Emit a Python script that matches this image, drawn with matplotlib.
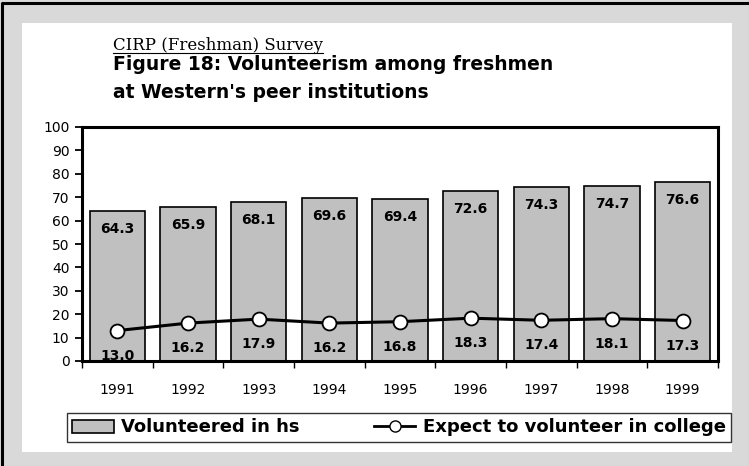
import matplotlib
matplotlib.use('Agg')
import matplotlib.pyplot as plt
import numpy as np
from matplotlib.patches import Rectangle, Patch
from matplotlib.lines import Line2D

# -[Dati]----------------------------------------------------------------------
years = ['1991', '1992', '1993', '1994', '1995', '1996', '1997', '1998', '1999']
hs_vol = [64.3, 65.9, 68.1, 69.6, 69.4, 72.6, 74.3, 74.7, 76.6]
college_exp = [13.0, 16.2, 17.9, 16.2, 16.8, 18.3, 17.4, 18.1, 17.3]
yticks = [0, 10, 20, 30, 40, 50, 60, 70, 80, 90, 100]

bar_grey = '#c0c0c0'
bg_grey = '#d9d9d9'

# -[Figura]--------------------------------------------------------------------
W, H = 749, 466
fig = plt.figure(figsize=(W/100, H/100), dpi=100, facecolor=bg_grey)

# pannello bianco + bordo nero (solo sinistra e sopra, come nell'originale)
fig.patches.append(Rectangle((22/W, 1-452/H), 710/W, 429/H, transform=fig.transFigure,
                             facecolor='white', edgecolor='none', zorder=-5))
fig.add_artist(Line2D([2/W, 2/W, 1], [0, 1-2.5/H, 1-2.5/H], color='black',
                      linewidth=2.2, transform=fig.transFigure, zorder=10))
fig.add_artist(Line2D([1-0.5/W, 1-0.5/W], [0, 1], color='#a0a0a0',
                      linewidth=0.8, transform=fig.transFigure, zorder=10))

ax = fig.add_axes([82/W, 1-361/H, 636/W, 234/H])
ax.set_facecolor('white')

x = np.arange(len(years))
ax.bar(x, hs_vol, width=0.78, color=bar_grey, edgecolor='black', linewidth=1.2, zorder=2)
ax.plot(x, college_exp, '-o', color='black', linewidth=2.2, markersize=10,
        markerfacecolor='white', markeredgecolor='black', markeredgewidth=1.3, zorder=3)

for xi, v in zip(x, hs_vol):
    ax.annotate(f"{v:.1f}", (xi, v), xytext=(0, -13), textcoords='offset points',
                ha='center', va='center', fontsize=10, fontweight='bold', zorder=4)
for xi, v in zip(x, college_exp):
    ax.annotate(f"{v:.1f}", (xi, v), xytext=(0, -18), textcoords='offset points',
                ha='center', va='center', fontsize=10, fontweight='bold', zorder=4,
                annotation_clip=False, clip_on=True)

ax.set_xlim(-0.5, len(years)-0.5)
ax.set_ylim(0, 100)
ax.set_yticks(yticks)
ax.set_yticklabels([str(t) for t in yticks], fontsize=10)
ax.set_xticks(x)
ax.set_xticklabels(years, fontsize=10)
ax.set_xticks(np.arange(len(years)+1)-0.5, minor=True)
ax.tick_params(axis='x', which='major', length=0, pad=16)
ax.tick_params(axis='x', which='minor', direction='out', length=5, width=1)
ax.tick_params(axis='y', direction='out', length=5, width=1.3, pad=4)
for s in ax.spines.values():
    s.set_linewidth(2.2)
    s.set_zorder(5)

# -[Titoli]--------------------------------------------------------------------
sub = fig.text(113/W, 1-46/H, "CIRP (Freshman) Survey", family='DejaVu Serif',
               fontsize=12, ha='left', va='center')
fig.text(113/W, 1-64/H, "Figure 18: Volunteerism among freshmen", fontsize=13.5,
         fontweight='bold', ha='left', va='center')
fig.text(113/W, 1-93/H, "at Western's peer institutions", fontsize=13.5,
         fontweight='bold', ha='left', va='center')

# -[Legenda]-------------------------------------------------------------------
h1 = Patch(facecolor=bar_grey, edgecolor='black', linewidth=1.2)
h2 = Line2D([], [], color='black', linewidth=2, marker='o', markersize=8,
            markerfacecolor='white', markeredgecolor='black')
leg = fig.legend([h1, h2], ["Volunteered in hs", "Expect to volunteer in college"],
                 loc='center', bbox_to_anchor=(67/W, 1-443/H, 664/W, 31/H), mode='expand',
                 ncol=2, prop={'weight': 'bold', 'size': 13}, frameon=True, fancybox=False,
                 edgecolor='#333333', framealpha=1, borderpad=0.3, borderaxespad=0,
                 handlelength=2.3, handletextpad=0.4, columnspacing=1.0)
leg.get_frame().set_linewidth(1)

# sottolineatura del sottotitolo
fig.canvas.draw()
bb = sub.get_window_extent().transformed(fig.transFigure.inverted())
fig.add_artist(Line2D([bb.x0, bb.x1], [bb.y0 + 1/H, bb.y0 + 1/H], color='black',
                      linewidth=0.8, transform=fig.transFigure))

fig.savefig('out.png', dpi=100, facecolor=bg_grey)
